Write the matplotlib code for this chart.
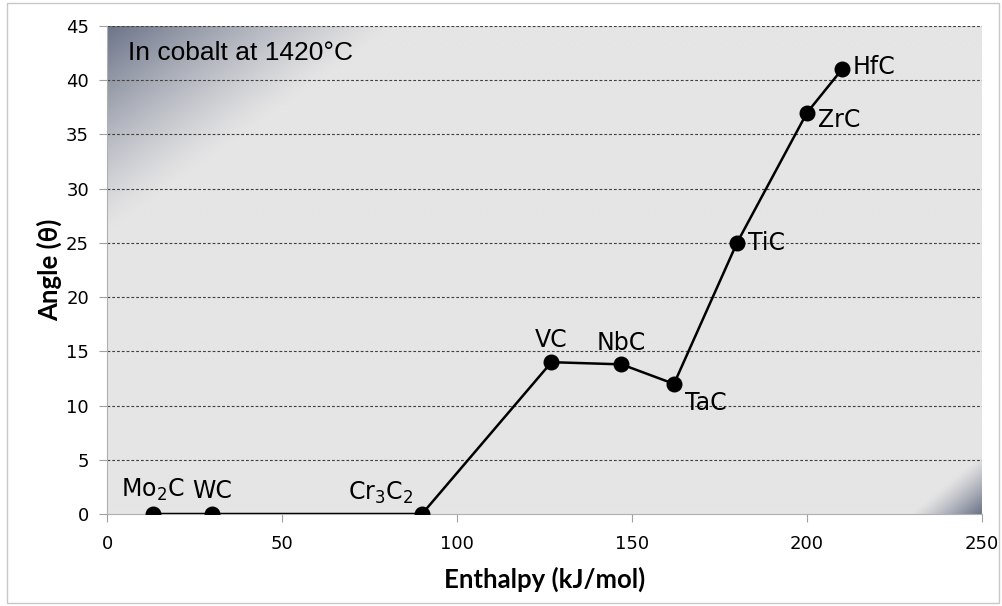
import numpy as np
import matplotlib
matplotlib.use('Agg')
import matplotlib.pyplot as plt
from matplotlib.colors import LinearSegmentedColormap
from matplotlib.patches import Rectangle

# data
carbides = ['Mo$_2$C', 'WC', 'Cr$_3$C$_2$', 'VC', 'NbC', 'TaC', 'TiC', 'ZrC', 'HfC']
enthalpy = [13, 30, 90, 127, 147, 162, 180, 200, 210]
angle = [0, 0, 0, 14, 13.8, 12, 25, 37, 41]

xticks = [0, 50, 100, 150, 200, 250]
yticks = [0, 5, 10, 15, 20, 25, 30, 35, 40, 45]

# label offsets in points (dx, dy, ha, va)
offsets = [(0, 8, 'center', 'bottom'), (0, 8, 'center', 'bottom'),
           (-6, 6, 'right', 'bottom'), (0, 7, 'center', 'bottom'),
           (0, 7, 'center', 'bottom'), (8, -5, 'left', 'top'),
           (8, 0, 'left', 'center'), (8, -5, 'left', 'center'),
           (8, 2, 'left', 'center')]

fig = plt.figure(figsize=(10.02, 6.06), dpi=100)
ax = fig.add_axes([0.1068, 0.1518, 0.8732, 0.8053])

# background gradient (darker corners top-left and bottom-right)
ny, nx = 300, 500
gx, gy = np.meshgrid(np.linspace(0, 1, nx), np.linspace(0, 1, ny))
s1 = np.clip(1 - (gx / 0.33 + gy / 0.42), 0, 1)
s2 = np.clip(1 - ((1 - gx) / 0.08 + (1 - gy) / 0.12), 0, 1)
shade = s1 ** 1.2 + s2 ** 1.2
cmap = LinearSegmentedColormap.from_list('bg', ['#e5e5e5', '#6c7489'])
ax.imshow(shade, cmap=cmap, vmin=0, vmax=1, extent=[0, 250, 0, 45],
          origin='upper', aspect='auto', zorder=0, interpolation='bilinear')

for y in yticks[1:]:
    ax.axhline(y, color='#404040', lw=0.8, ls=(0, (2.5, 1.8)), zorder=1)

ax.plot(enthalpy, angle, color='black', lw=1.8, marker='o', ms=10.5, zorder=3)

for name, x, y, (dx, dy, ha, va) in zip(carbides, enthalpy, angle, offsets):
    ax.annotate(name, (x, y), xytext=(dx, dy), textcoords='offset points',
                ha=ha, va=va, fontsize=17, family='DejaVu Sans', zorder=4)

ax.text(6, 42.5, 'In cobalt at 1420°C', fontsize=19, family='Liberation Sans',
        va='center', ha='left', zorder=4)

ax.set_xlim(0, 250)
ax.set_ylim(0, 45)
ax.set_xticks(xticks)
ax.set_yticks(yticks)
ax.tick_params(labelsize=13, colors='#a0a0a0', labelcolor='black', length=6, width=0.8)
ax.tick_params(axis='x', pad=9)
ax.tick_params(axis='y', pad=7)
for s in ['top', 'right']:
    ax.spines[s].set_visible(False)
ax.spines['left'].set_color('#b0b0b0')
ax.spines['bottom'].set_color('#b0b0b0')

ax.set_xlabel('Enthalpy (kJ/mol)', fontsize=18.5, fontweight='bold',
              family=['Lato', 'DejaVu Sans'], labelpad=10)
ax.set_ylabel('Angle (θ)', fontsize=18.5, fontweight='bold',
              family=['Lato', 'DejaVu Sans'], labelpad=3)

fig.patches.append(Rectangle((0.007, 0.005), 0.99, 0.99, transform=fig.transFigure,
                             fill=False, edgecolor='#c8c8c8', lw=1))

fig.savefig('out.png', dpi=100)
